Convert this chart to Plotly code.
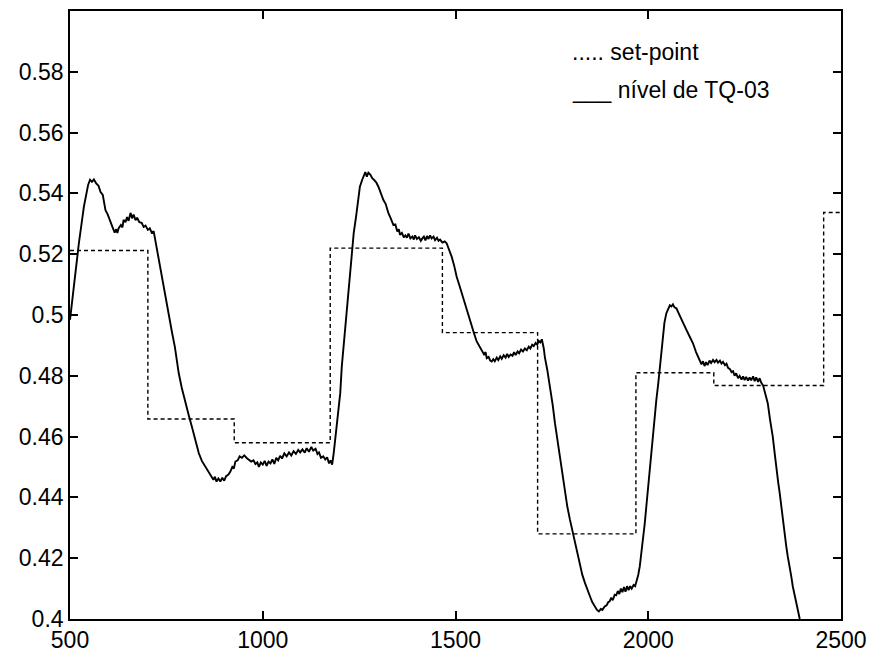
import plotly.graph_objects as go

# Set-point schedule: switching instants and the level held from each instant on
sp_t = [500, 702, 926, 1175, 1466, 1713, 1968, 2170, 2455, 2500]
sp_level = [0.5212, 0.4658, 0.4580, 0.5220, 0.4942, 0.4280, 0.4810, 0.4768, 0.5337, 0.5337]

# Measured tank level (TQ-03)
t = [
    500, 510, 523, 536, 547, 552, 557, 562, 568, 574, 579, 585, 592, 598, 605, 610, 616, 620, 623, 626,
    632, 636, 639, 644, 648, 652, 657, 661, 665, 670, 674, 680, 686, 691, 696, 702, 707, 713, 717, 721,
    727, 734, 740, 747, 755, 765, 772, 782, 790, 799, 808, 816, 825, 834, 842, 849, 855, 862, 868, 872,
    876, 880, 885, 890, 895, 900, 905, 911, 916, 921, 925, 929, 935, 940, 946, 952, 959, 965, 970, 976,
    981, 986, 990, 995, 1000, 1005, 1010, 1015, 1020, 1025, 1030, 1035, 1040, 1045, 1050, 1056, 1062, 1068, 1074, 1080,
    1086, 1092, 1097, 1103, 1109, 1114, 1120, 1126, 1131, 1137, 1142, 1146, 1151, 1157, 1162, 1167, 1172, 1176, 1180, 1184,
    1188, 1192, 1197, 1201, 1205, 1211, 1218, 1224, 1231, 1236, 1242, 1247, 1252, 1258, 1262, 1266, 1270, 1274, 1279, 1284,
    1289, 1295, 1300, 1306, 1313, 1319, 1326, 1332, 1339, 1344, 1349, 1353, 1356, 1361, 1366, 1370, 1374, 1378, 1383, 1388,
    1392, 1395, 1400, 1405, 1410, 1414, 1418, 1422, 1426, 1430, 1434, 1438, 1443, 1447, 1452, 1456, 1460, 1466, 1472, 1477,
    1484, 1490, 1497, 1503, 1510, 1516, 1522, 1529, 1536, 1542, 1548, 1555, 1561, 1568, 1574, 1578, 1581, 1586, 1590, 1594,
    1598, 1602, 1607, 1611, 1616, 1620, 1625, 1630, 1634, 1638, 1643, 1648, 1652, 1656, 1661, 1665, 1670, 1675, 1680, 1685,
    1690, 1694, 1699, 1703, 1708, 1712, 1716, 1720, 1724, 1729, 1732, 1738, 1745, 1752, 1758, 1765, 1771, 1778, 1784, 1790,
    1797, 1804, 1810, 1816, 1823, 1829, 1836, 1842, 1849, 1855, 1862, 1867, 1872, 1877, 1881, 1887, 1892, 1896, 1900, 1904,
    1908, 1913, 1917, 1921, 1925, 1929, 1933, 1937, 1941, 1945, 1949, 1953, 1957, 1962, 1966, 1970, 1974, 1978, 1982, 1987,
    1991, 1995, 2000, 2004, 2008, 2013, 2017, 2021, 2026, 2030, 2034, 2038, 2042, 2047, 2052, 2056, 2060, 2064, 2068, 2073,
    2079, 2086, 2092, 2099, 2107, 2116, 2124, 2130, 2134, 2138, 2142, 2146, 2150, 2154, 2159, 2163, 2168, 2172, 2177, 2181,
    2186, 2190, 2194, 2199, 2203, 2207, 2212, 2216, 2220, 2224, 2228, 2233, 2237, 2242, 2246, 2250, 2254, 2259, 2263, 2267,
    2272, 2276, 2280, 2285, 2289, 2293, 2298, 2304, 2310, 2316, 2323, 2328, 2332, 2337, 2341, 2345, 2349, 2354, 2358, 2362,
    2367, 2371, 2375, 2380, 2384, 2388, 2393,
]
level = [
    0.4984, 0.5093, 0.5236, 0.5356, 0.5428, 0.5445, 0.5438, 0.5446, 0.5433, 0.5425, 0.5405, 0.5395, 0.5345, 0.5330, 0.5302, 0.5290, 0.5271, 0.5282, 0.5270, 0.5285,
    0.5296, 0.5288, 0.5313, 0.5305, 0.5322, 0.5310, 0.5336, 0.5318, 0.5330, 0.5312, 0.5320, 0.5305, 0.5303, 0.5290, 0.5294, 0.5280, 0.5285, 0.5268, 0.5276, 0.5247,
    0.5205, 0.5160, 0.5118, 0.5072, 0.5005, 0.4940, 0.4895, 0.4809, 0.4760, 0.4710, 0.4670, 0.4633, 0.4590, 0.4546, 0.4520, 0.4505, 0.4491, 0.4478, 0.4465, 0.4458,
    0.4468, 0.4452, 0.4462, 0.4452, 0.4465, 0.4455, 0.4470, 0.4475, 0.4485, 0.4500, 0.4495, 0.4518, 0.4522, 0.4535, 0.4530, 0.4538, 0.4529, 0.4524, 0.4518, 0.4522,
    0.4510, 0.4515, 0.4500, 0.4515, 0.4508, 0.4520, 0.4504, 0.4518, 0.4512, 0.4525, 0.4510, 0.4530, 0.4522, 0.4537, 0.4528, 0.4545, 0.4535, 0.4548, 0.4538, 0.4552,
    0.4543, 0.4556, 0.4548, 0.4558, 0.4547, 0.4562, 0.4550, 0.4566, 0.4554, 0.4560, 0.4543, 0.4548, 0.4530, 0.4535, 0.4525, 0.4532, 0.4512, 0.4522, 0.4508, 0.4545,
    0.4590, 0.4644, 0.4700, 0.4743, 0.4830, 0.4920, 0.5017, 0.5110, 0.5214, 0.5270, 0.5323, 0.5375, 0.5422, 0.5445, 0.5458, 0.5470, 0.5455, 0.5468, 0.5462, 0.5450,
    0.5444, 0.5435, 0.5422, 0.5400, 0.5378, 0.5365, 0.5335, 0.5318, 0.5296, 0.5298, 0.5275, 0.5282, 0.5264, 0.5270, 0.5255, 0.5262, 0.5254, 0.5268, 0.5252, 0.5258,
    0.5248, 0.5262, 0.5250, 0.5256, 0.5244, 0.5252, 0.5258, 0.5245, 0.5260, 0.5250, 0.5262, 0.5252, 0.5258, 0.5246, 0.5254, 0.5244, 0.5248, 0.5238, 0.5242, 0.5236,
    0.5215, 0.5192, 0.5160, 0.5126, 0.5098, 0.5072, 0.5045, 0.5017, 0.4990, 0.4962, 0.4940, 0.4913, 0.4900, 0.4885, 0.4870, 0.4878, 0.4858, 0.4862, 0.4850, 0.4847,
    0.4855, 0.4848, 0.4860, 0.4852, 0.4864, 0.4856, 0.4868, 0.4860, 0.4872, 0.4862, 0.4870, 0.4866, 0.4878, 0.4868, 0.4880, 0.4874, 0.4886, 0.4880, 0.4890, 0.4884,
    0.4896, 0.4890, 0.4902, 0.4898, 0.4908, 0.4902, 0.4915, 0.4910, 0.4920, 0.4890, 0.4860, 0.4820, 0.4765, 0.4705, 0.4644, 0.4585, 0.4524, 0.4465, 0.4414, 0.4370,
    0.4326, 0.4285, 0.4250, 0.4210, 0.4173, 0.4145, 0.4118, 0.4095, 0.4074, 0.4055, 0.4041, 0.4030, 0.4025, 0.4033, 0.4030, 0.4041, 0.4045, 0.4055, 0.4058, 0.4070,
    0.4062, 0.4080, 0.4078, 0.4092, 0.4082, 0.4100, 0.4088, 0.4105, 0.4090, 0.4108, 0.4095, 0.4108, 0.4100, 0.4112, 0.4108, 0.4125, 0.4145, 0.4173, 0.4215, 0.4261,
    0.4315, 0.4370, 0.4440, 0.4502, 0.4555, 0.4611, 0.4665, 0.4721, 0.4775, 0.4830, 0.4885, 0.4940, 0.4975, 0.5006, 0.5020, 0.5032, 0.5028, 0.5035, 0.5025, 0.5022,
    0.5005, 0.4984, 0.4970, 0.4951, 0.4930, 0.4907, 0.4878, 0.4860, 0.4845, 0.4838, 0.4848, 0.4832, 0.4845, 0.4835, 0.4850, 0.4842, 0.4852, 0.4845, 0.4852, 0.4843,
    0.4850, 0.4840, 0.4846, 0.4835, 0.4840, 0.4826, 0.4822, 0.4812, 0.4815, 0.4800, 0.4808, 0.4792, 0.4800, 0.4788, 0.4798, 0.4786, 0.4796, 0.4784, 0.4795, 0.4785,
    0.4798, 0.4782, 0.4795, 0.4780, 0.4792, 0.4778, 0.4768, 0.4735, 0.4710, 0.4655, 0.4600, 0.4545, 0.4491, 0.4450, 0.4414, 0.4370, 0.4326, 0.4280, 0.4239, 0.4205,
    0.4173, 0.4140, 0.4107, 0.4080, 0.4053, 0.4028, 0.4000,
]

x_ticks = [500, 1000, 1500, 2000, 2500]
y_ticks = [0.40, 0.42, 0.44, 0.46, 0.48, 0.50, 0.52, 0.54, 0.56, 0.58]
y_tick_text = ["0.4", "0.42", "0.44", "0.46", "0.48", "0.5", "0.52", "0.54", "0.56", "0.58"]

legend_lines = ["..... set-point", "___ nível de TQ-03"]
legend_y = [0.5865, 0.5740]

FONT = "Liberation Sans, Arial, sans-serif"

fig = go.Figure()
fig.add_trace(go.Scatter(
    x=sp_t, y=sp_level, mode="lines", line_shape="hv",
    line=dict(color="black", width=1.4, dash="4px,3px"),
    showlegend=False, hoverinfo="skip",
))
fig.add_trace(go.Scatter(
    x=t, y=level, mode="lines",
    line=dict(color="black", width=1.9),
    showlegend=False, hoverinfo="skip",
))

axis_common = dict(
    showline=True, linecolor="black", linewidth=1.6, mirror="ticks",
    ticks="inside", ticklen=8, tickwidth=1.6, tickcolor="black",
    showgrid=False, zeroline=False, automargin=False,
    tickfont=dict(family=FONT, size=23, color="black"),
)

fig.update_xaxes(range=[500, 2500], tickvals=x_ticks, ticktext=[str(v) for v in x_ticks], **axis_common)
fig.update_yaxes(range=[0.4, 0.6], tickvals=y_ticks, ticktext=y_tick_text, **axis_common)

for txt, yy in zip(legend_lines, legend_y):
    fig.add_annotation(
        x=1797, y=yy, xref="x", yref="y",
        text=txt, showarrow=False, xanchor="left", yanchor="middle",
        font=dict(family=FONT, size=23, color="black"),
    )

fig.update_layout(
    width=871, height=654,
    margin=dict(l=70, r=30, t=11, b=35, autoexpand=False),
    paper_bgcolor="white", plot_bgcolor="white",
)

fig.write_html("out.html")
